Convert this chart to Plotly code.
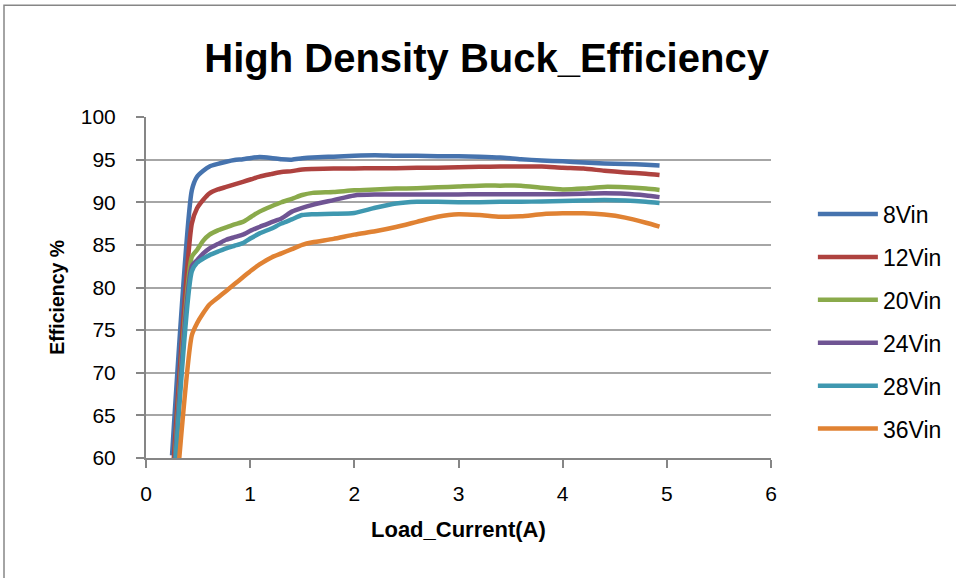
import plotly.graph_objects as go

# Load current (A) sample points shared by all input-voltage sweeps
load_current = [0.25, 0.44, 0.49, 0.55, 0.61, 0.69, 0.77, 0.85, 0.93, 1.01, 1.09,
                1.2, 1.3, 1.4, 1.5, 1.6, 1.8, 2.0, 2.2, 2.4, 2.6, 2.8, 3.0, 3.2,
                3.4, 3.6, 3.8, 4.0, 4.2, 4.4, 4.6, 4.8, 4.93]

# Efficiency (%) per input voltage
eff_8vin = [60.3, 91.4, 93.0, 93.7, 94.2, 94.5, 94.75, 94.95, 95.05, 95.2, 95.3,
            95.2, 95.05, 95.0, 95.15, 95.25, 95.35, 95.45, 95.5, 95.45, 95.45, 95.4,
            95.4, 95.35, 95.25, 95.05, 94.9, 94.8, 94.65, 94.55, 94.5, 94.4, 94.3]
eff_12vin = [56.8, 87.5, 89.3, 90.3, 91.05, 91.5, 91.8, 92.1, 92.4, 92.7, 93.0,
             93.3, 93.55, 93.65, 93.85, 93.9, 93.95, 93.95, 94.0, 94.0, 94.05, 94.05,
             94.1, 94.15, 94.2, 94.2, 94.2, 94.05, 93.95, 93.7, 93.5, 93.35, 93.2]
eff_20vin = [54.5, 83.6, 84.4, 85.5, 86.2, 86.7, 87.05, 87.4, 87.7, 88.3, 88.9,
             89.5, 90.0, 90.4, 90.85, 91.1, 91.2, 91.4, 91.5, 91.6, 91.65, 91.75,
             91.85, 91.95, 91.95, 91.95, 91.7, 91.5, 91.6, 91.8, 91.75, 91.6, 91.45]
eff_24vin = [54.0, 82.5, 83.2, 84.0, 84.6, 85.1, 85.6, 85.9, 86.2, 86.7, 87.1,
             87.65, 88.1, 88.9, 89.35, 89.7, 90.25, 90.8, 90.9, 90.9, 90.9, 90.9,
             90.9, 90.95, 90.95, 90.95, 90.95, 90.95, 91.0, 91.05, 91.0, 90.8, 90.6]
eff_28vin = [53.5, 81.9, 82.9, 83.4, 83.8, 84.2, 84.6, 84.9, 85.2, 85.8, 86.35,
             86.9, 87.5, 88.0, 88.5, 88.6, 88.65, 88.75, 89.35, 89.85, 90.05, 90.05,
             90.0, 90.0, 90.05, 90.05, 90.1, 90.15, 90.2, 90.25, 90.2, 90.05, 89.9]
eff_36vin = [49.7, 74.4, 75.8, 77.0, 78.0, 78.8, 79.6, 80.4, 81.2, 82.0, 82.7,
             83.5, 84.0, 84.5, 85.0, 85.3, 85.7, 86.2, 86.6, 87.1, 87.7, 88.3,
             88.6, 88.5, 88.3, 88.35, 88.6, 88.7, 88.7, 88.55, 88.2, 87.6, 87.15]

series_names = ["8Vin", "12Vin", "20Vin", "24Vin", "28Vin", "36Vin"]
series_values = [eff_8vin, eff_12vin, eff_20vin, eff_24vin, eff_28vin, eff_36vin]
series_colors = ["#4673AE", "#AE423F", "#8AAA4B", "#6F5493", "#3F98B0", "#E08233"]

x_ticks = [0, 1, 2, 3, 4, 5, 6]
y_ticks = [60, 65, 70, 75, 80, 85, 90, 95, 100]

FONT = "Liberation Sans, Arial, sans-serif"

fig = go.Figure()
for name, vals, col in zip(series_names, series_values, series_colors):
    fig.add_trace(go.Scatter(
        x=load_current, y=vals, name=name, mode="lines",
        legendgroup=name,
        line=dict(color=col, width=4.5, shape="spline", smoothing=0.6),
    ))

fig.update_layout(
    width=956, height=578,
    margin=dict(l=146, r=185, t=117, b=120, autoexpand=False),
    paper_bgcolor="white", plot_bgcolor="white",
    font=dict(family=FONT, color="#000000"),
    title=dict(text="<b>High Density Buck_Efficiency</b>",
               xref="container", yref="container", x=0.509, y=0.9,
               xanchor="center", yanchor="middle",
               font=dict(size=40, family=FONT, color="#000000")),
    xaxis=dict(range=[0, 6], tickvals=x_ticks, showgrid=False, zeroline=False,
               showline=True, linecolor="#868686", linewidth=2,
               ticks="outside", ticklen=8, tickcolor="#868686", tickwidth=1.5,
               tickfont=dict(size=21), ticklabelstandoff=8),
    yaxis=dict(range=[60, 100], tickvals=y_ticks, showgrid=True,
               gridcolor="#A6A6A6", gridwidth=1.5, zeroline=False,
               showline=True, linecolor="#868686", linewidth=2,
               ticks="outside", ticklen=8, tickcolor="#868686", tickwidth=1.5,
               tickfont=dict(size=21), ticklabelstandoff=16),
    legend=dict(x=1.067, xanchor="left", xref="paper", y=0.40, yanchor="middle",
                font=dict(size=23), tracegroupgap=10, itemwidth=60,
                bgcolor="rgba(0,0,0,0)"),
    showlegend=True,
)

# Axis titles
fig.add_annotation(text="<b>Load_Current(A)</b>", xref="paper", yref="paper",
                   x=0.5, y=-0.21, xanchor="center", yanchor="middle",
                   showarrow=False, font=dict(size=22, family=FONT))
fig.add_annotation(text="<b>Efficiency %</b>", xref="paper", yref="paper",
                   x=-0.1424, y=0.47, xanchor="center", yanchor="middle",
                   textangle=-90, showarrow=False, font=dict(size=19.5, family=FONT))

# Chart-area frame
fig.add_shape(type="rect", xref="paper", yref="paper",
              x0=-0.2272, x1=1.6, y0=-0.6, y1=1.328,
              line=dict(color="#868686", width=1.5), fillcolor="rgba(0,0,0,0)",
              layer="below")

fig.write_html("out.html")
